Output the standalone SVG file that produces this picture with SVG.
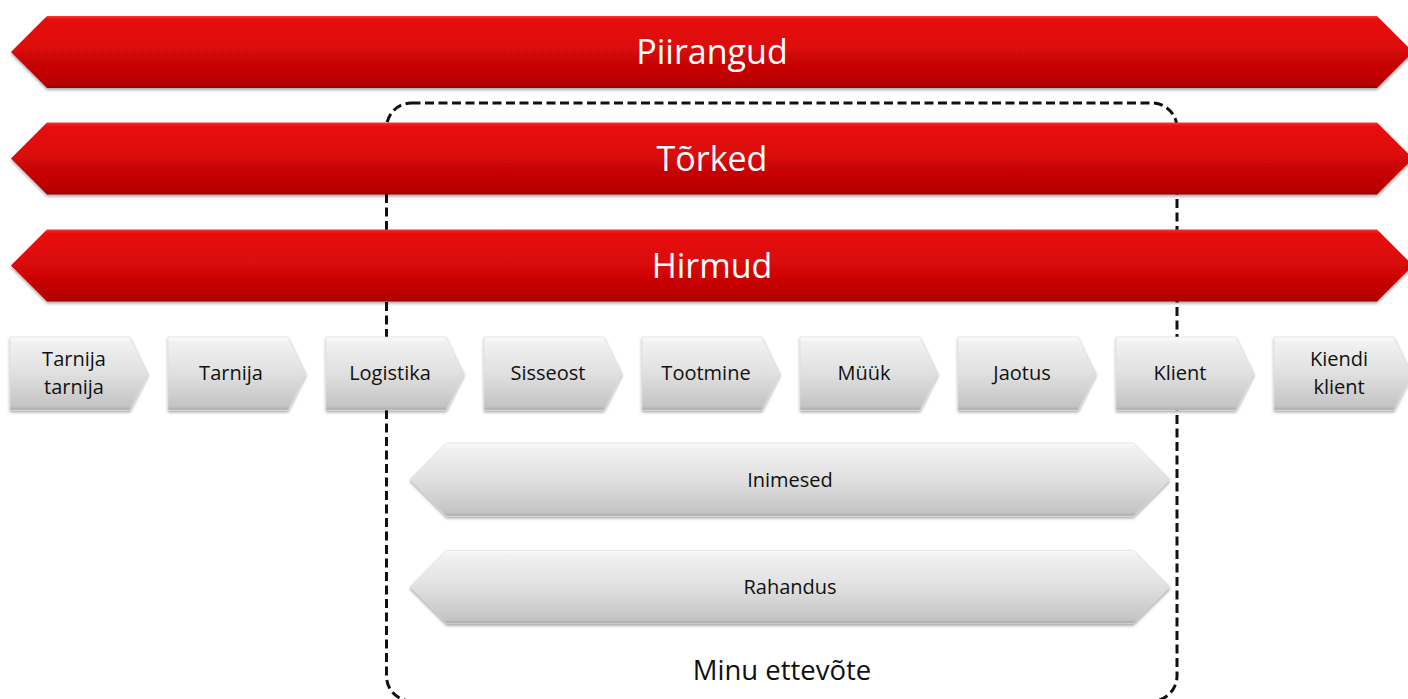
<svg xmlns="http://www.w3.org/2000/svg" width="1408" height="699" viewBox="0 0 1408 699">
<defs>
<linearGradient id="gRed" x1="0" y1="0" x2="0" y2="1">
<stop offset="0" stop-color="#f23a3a"/>
<stop offset="0.05" stop-color="#e80a0a"/>
<stop offset="0.45" stop-color="#db0707"/>
<stop offset="0.95" stop-color="#b50505"/>
<stop offset="1" stop-color="#960404"/>
</linearGradient>
<linearGradient id="gGray" x1="0" y1="0" x2="0" y2="1">
<stop offset="0" stop-color="#fbfbfb"/>
<stop offset="0.08" stop-color="#f1f1f1"/>
<stop offset="0.5" stop-color="#e0e0e0"/>
<stop offset="0.95" stop-color="#c4c4c4"/>
<stop offset="1" stop-color="#a8a8a8"/>
</linearGradient>
<filter id="sh" x="-5%" y="-20%" width="110%" height="150%">
<feDropShadow dx="0" dy="2" stdDeviation="1.5" flood-color="#000" flood-opacity="0.35"/>
</filter>
</defs>
<style>
.red{fill:url(#gRed);filter:url(#sh)}
.gray{fill:url(#gGray);stroke:#d8d8d8;stroke-width:0.6;filter:url(#sh)}
.tRed{font-family:"Open Sans","Noto Sans",sans-serif;font-size:34px;fill:#fff;text-anchor:middle}
.tStep{font-family:"Open Sans","Noto Sans",sans-serif;font-size:20px;fill:#111;text-anchor:middle}
.tBar{font-family:"Open Sans","Noto Sans",sans-serif;font-size:20px;fill:#111;text-anchor:middle}
.tBox{font-family:"Open Sans","Noto Sans",sans-serif;font-size:27.5px;fill:#111;text-anchor:middle}
.dash{fill:none;stroke:#111;stroke-width:3;stroke-dasharray:9 4.5}
</style>
<rect width="1408" height="699" fill="#fff"/>

<g id="minu-ettevote">
<rect class="dash" x="386.5" y="103" width="790.5" height="598" rx="25" ry="25"/>
<text class="tBox" x="782" y="680">Minu ettevõte</text>
</g>

<g id="piirangud">
<path class="red" d="M11 52 L47 16 L1377 16 L1413 52 L1377 88 L47 88 Z"/>
<text class="tRed" x="712" y="64">Piirangud</text>
</g>
<g id="torked">
<path class="red" d="M11 158.5 L47 122.5 L1377 122.5 L1413 158.5 L1377 194.5 L47 194.5 Z"/>
<text class="tRed" x="712" y="171">Tõrked</text>
</g>
<g id="hirmud">
<path class="red" d="M11 265.5 L47 229.5 L1377 229.5 L1413 265.5 L1377 301.5 L47 301.5 Z"/>
<text class="tRed" x="712" y="278">Hirmud</text>
</g>

<g id="tarnija-tarnija">
<path class="gray" d="M10 337 L130 337 L148 373.5 L130 410 L10 410 Z"/>
<text class="tStep" x="74" y="366">Tarnija</text>
<text class="tStep" x="74" y="394">tarnija</text>
</g>
<g id="tarnija">
<path class="gray" d="M168 337 L288 337 L306 373.5 L288 410 L168 410 Z"/>
<text class="tStep" x="231" y="380">Tarnija</text>
</g>
<g id="logistika">
<path class="gray" d="M326 337 L446 337 L464 373.5 L446 410 L326 410 Z"/>
<text class="tStep" x="390" y="380">Logistika</text>
</g>
<g id="sisseost">
<path class="gray" d="M484 337 L604 337 L622 373.5 L604 410 L484 410 Z"/>
<text class="tStep" x="548" y="380">Sisseost</text>
</g>
<g id="tootmine">
<path class="gray" d="M642 337 L762 337 L780 373.5 L762 410 L642 410 Z"/>
<text class="tStep" x="706" y="380">Tootmine</text>
</g>
<g id="muuk">
<path class="gray" d="M800 337 L920 337 L938 373.5 L920 410 L800 410 Z"/>
<text class="tStep" x="864" y="380">Müük</text>
</g>
<g id="jaotus">
<path class="gray" d="M958 337 L1078 337 L1096 373.5 L1078 410 L958 410 Z"/>
<text class="tStep" x="1022" y="380">Jaotus</text>
</g>
<g id="klient">
<path class="gray" d="M1116 337 L1236 337 L1254 373.5 L1236 410 L1116 410 Z"/>
<text class="tStep" x="1180" y="380">Klient</text>
</g>
<g id="kiendi-klient">
<path class="gray" d="M1274 337 L1394 337 L1412 373.5 L1394 410 L1274 410 Z"/>
<text class="tStep" x="1339" y="366">Kiendi</text>
<text class="tStep" x="1339" y="394">klient</text>
</g>

<g id="inimesed">
<path class="gray" d="M410 479.5 L446.5 443 L1133.5 443 L1170 479.5 L1133.5 516 L446.5 516 Z"/>
<text class="tBar" x="790" y="486.5">Inimesed</text>
</g>
<g id="rahandus">
<path class="gray" d="M410 587 L446.5 550.5 L1133.5 550.5 L1170 587 L1133.5 623.5 L446.5 623.5 Z"/>
<text class="tBar" x="790" y="594">Rahandus</text>
</g>
</svg>
